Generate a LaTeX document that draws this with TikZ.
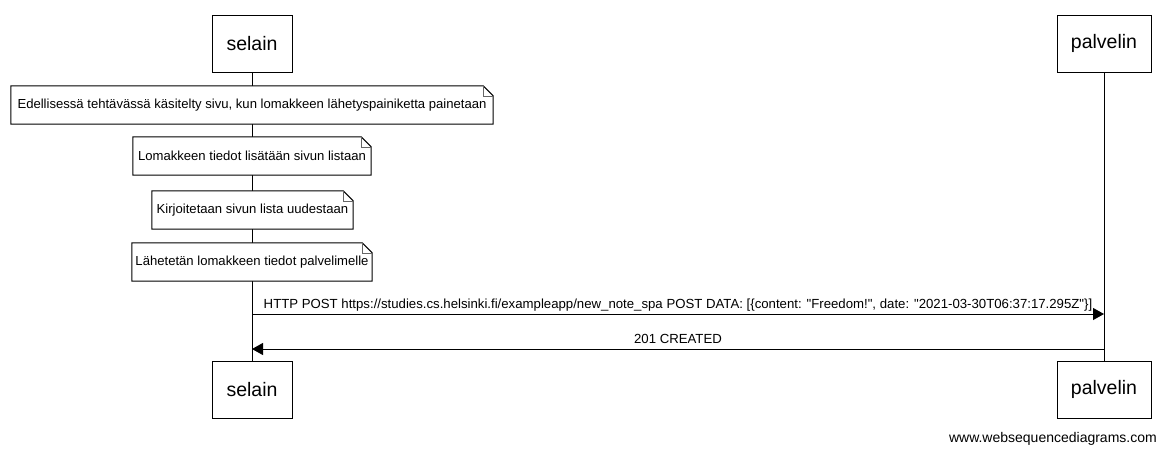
\documentclass[tikz,border=0pt]{standalone}
\usepackage{fontspec}
\setmainfont{Liberation Sans}[Ligatures=TeXOff]
\usetikzlibrary{arrows.meta}
\begin{document}
\begin{tikzpicture}[x=1pt,y={(0,-1pt)},
  actor/.style={draw=black, line width=1pt, fill=white, inner sep=0pt,
    minimum height=57pt, font=\fontsize{19.5}{23}\selectfont},
  notebox/.style={inner sep=0pt, minimum height=38pt, font=\fontsize{13.1}{15}\selectfont},
  lifeline/.style={line width=1pt},
  msg/.style={line width=1pt, -{Triangle[length=11pt,width=12pt]}},
  lbl/.style={font=\fontsize{13.2}{15}\selectfont, inner sep=0pt, anchor=base},
  notefold/.style={line width=0.6pt, black!60},
]
\useasboundingbox[fill=white] (0,0) rectangle (1166,453);
% participants
\node[actor, minimum width=80pt] (s1) at (252,43.5) {selain};
\node[actor, minimum width=94pt] (p1) at (1104,43.5) {palvelin};
\node[actor, minimum width=80pt] (s2) at (252,389.5) {selain};
\node[actor, minimum width=94pt] (p2) at (1104,389.5) {palvelin};
% lifelines
\draw[lifeline] (s1.south) -- (s2.north);
\draw[lifeline] (p1.south) -- (p2.north);
% notes (outline first, then text)
\coordinate (c1) at (252,105);
\coordinate (c2) at (252,156);
\coordinate (c3) at (252.5,210);
\coordinate (c4) at (252,262);
\node[notebox, minimum width=482pt] (n1) at (c1) {};
\node[notebox, minimum width=238pt] (n2) at (c2) {};
\node[notebox, minimum width=201pt] (n3) at (c3) {};
\node[notebox, minimum width=240pt] (n4) at (c4) {};
\foreach \n in {n1,n2,n3,n4}{
  \filldraw[fill=white, line width=1pt, line join=miter] (\n.north west) -- ([xshift=-10pt]\n.north east) -- ([yshift=-10pt]\n.north east) -- (\n.south east) -- (\n.south west) -- cycle;
  \draw[notefold] ([xshift=-10pt]\n.north east) -- ([xshift=-10pt,yshift=-10pt]\n.north east) -- ([yshift=-10pt]\n.north east);
}
\node[notebox] (t1) at (c1) {Edellisessä tehtävässä käsitelty sivu, kun lomakkeen lähetyspainiketta painetaan};
\node[notebox] (t2) at (c2) {Lomakkeen tiedot lisätään sivun listaan};
\node[notebox] (t3) at (c3) {Kirjoitetaan sivun lista uudestaan};
\node[notebox] (t4) at (c4) {Lähetetän lomakkeen tiedot palvelimelle};
% messages
\coordinate (a1) at (252,314);
\coordinate (b1) at (1104,314);
\coordinate (a2) at (1104,349);
\coordinate (b2) at (252,349);
\draw[msg] (a1) -- (b1);
\node[lbl] (l1) at (678,308) {HTTP POST https://studies.cs.helsinki.fi/exampleapp/new\_note\_spa POST DATA: [\{content: "Freedom!", date: "2021-03-30T06:37:17.295Z"\}]};
\draw[msg] (a2) -- (b2);
\node[lbl] (l2) at (678,343) {201 CREATED};
% watermark
\node[font=\fontsize{14}{16}\selectfont, inner sep=0pt, anchor=base east] (wm) at (1157,442) {www.websequencediagrams.com};
\end{tikzpicture}
\end{document}
